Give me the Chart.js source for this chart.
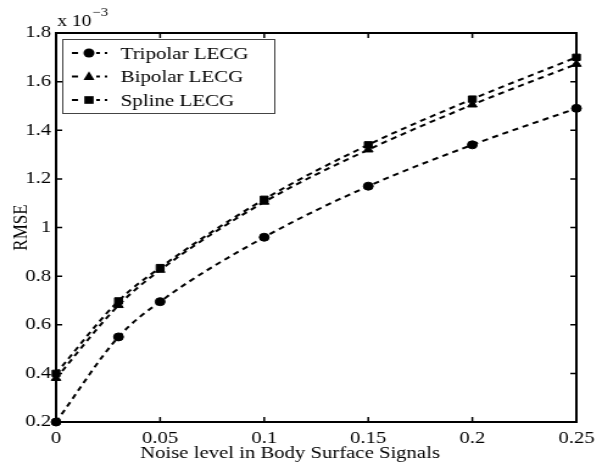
<!DOCTYPE html>
<html>
<head>
<meta charset="utf-8">
<script src="https://cdn.jsdelivr.net/npm/chart.js@4/dist/chart.umd.min.js"></script>
<style>
  html, body { margin: 0; padding: 0; background: #fff; }
  canvas { display: block; }
</style>
</head>
<body>
<canvas id="c" width="494" height="466" style="width:602px;height:466px;"></canvas>
<script>
// ---- data (values are x 10^-3) ----
const noise    = [0, 0.03, 0.05, 0.1, 0.15, 0.2, 0.25];
const tripolar = [0.20, 0.55, 0.695, 0.96, 1.17, 1.34, 1.49];
const bipolar  = [0.38, 0.68, 0.825, 1.105, 1.32, 1.505, 1.672];
const spline   = [0.40, 0.698, 0.835, 1.116, 1.34, 1.528, 1.70];
const seriesLabels = ['Tripolar LECG', 'Bipolar LECG', 'Spline LECG'];
const xTicks = [0, 0.05, 0.1, 0.15, 0.2, 0.25];
const yTicks = [0.2, 0.4, 0.6, 0.8, 1, 1.2, 1.4, 1.6, 1.8];
const xTitle = 'Noise level in Body Surface Signals';
const yTitle = 'RMSE';

const FONT = '"Liberation Serif", "Times New Roman", serif';
const toXY = arr => noise.map((x, i) => ({ x: x, y: arr[i] }));
const fmt = v => String(Number(v.toFixed(3)));

function ds(label, arr, style) {
  return {
    label: label, data: toXY(arr),
    borderColor: '#000', backgroundColor: '#000',
    borderWidth: 2, borderDash: [5, 4],
    pointStyle: style, pointRadius: style === 'circle' ? 4 : 4.5,
    pointBorderWidth: 1, pointBackgroundColor: '#000', pointBorderColor: '#000',
    cubicInterpolationMode: 'monotone', fill: false, clip: false
  };
}

function drawMarker(ctx, style, x, y, r) {
  ctx.beginPath();
  if (style === 'circle') {
    ctx.arc(x, y, r, 0, Math.PI * 2);
  } else if (style === 'triangle') {
    ctx.moveTo(x, y - r * 1.15);
    ctx.lineTo(x + r, y + r * 0.75);
    ctx.lineTo(x - r, y + r * 0.75);
    ctx.closePath();
  } else {
    ctx.rect(x - r * 0.85, y - r * 0.85, r * 1.7, r * 1.7);
  }
  ctx.fill();
}

const framePlugin = {
  id: 'frame',
  beforeDatasetsDraw(chart) {
    const { ctx, chartArea: a, scales } = chart;
    ctx.save();
    ctx.strokeStyle = '#000';
    ctx.lineWidth = 2;
    ctx.strokeRect(a.left, a.top, a.right - a.left, a.bottom - a.top);
    ctx.lineWidth = 1.5;
    const tl = 5;
    ctx.beginPath();
    scales.x.ticks.forEach(t => {
      const px = scales.x.getPixelForValue(t.value);
      ctx.moveTo(px, a.bottom); ctx.lineTo(px, a.bottom - tl);
      ctx.moveTo(px, a.top); ctx.lineTo(px, a.top + tl);
    });
    scales.y.ticks.forEach(t => {
      const py = scales.y.getPixelForValue(t.value);
      ctx.moveTo(a.left, py); ctx.lineTo(a.left + tl, py);
      ctx.moveTo(a.right, py); ctx.lineTo(a.right - tl, py);
    });
    ctx.stroke();
    ctx.fillStyle = '#000';
    // exponent label
    ctx.textBaseline = 'alphabetic';
    ctx.textAlign = 'left';
    ctx.font = '16px ' + FONT;
    ctx.fillText('x 10', a.left + 1, a.top - 7);
    const w = ctx.measureText('x 10').width;
    ctx.font = '12px ' + FONT;
    ctx.fillText('\u22123', a.left + 2 + w, a.top - 17);
    // x axis title (offset left as in the original)
    ctx.font = '17px ' + FONT;
    ctx.textAlign = 'center';
    ctx.fillText(xTitle, a.left + 192, a.bottom + 36);
    ctx.restore();
  },
  afterDatasetsDraw(chart) {
    const { ctx, chartArea: a } = chart;
    const bx = a.left + 5, by = a.top + 6, bw = 174, bh = 74;
    ctx.save();
    ctx.fillStyle = '#fff';
    ctx.fillRect(bx, by, bw, bh);
    ctx.strokeStyle = '#444';
    ctx.lineWidth = 1;
    ctx.strokeRect(bx + 0.5, by + 0.5, bw, bh);
    ctx.font = '20px ' + FONT;
    const fs = 20 * 105 / ctx.measureText(chart.data.datasets[0].label).width;
    ctx.font = fs.toFixed(2) + 'px ' + FONT;
    ctx.textBaseline = 'middle';
    ctx.textAlign = 'left';
    chart.data.datasets.forEach((d, i) => {
      const cy = by + 14 + i * 23.5;
      ctx.strokeStyle = '#000';
      ctx.lineWidth = 2;
      ctx.setLineDash([5, 4]);
      ctx.beginPath();
      ctx.moveTo(bx + 8, cy); ctx.lineTo(bx + 37, cy);
      ctx.stroke();
      ctx.setLineDash([]);
      ctx.fillStyle = '#fff';
      ctx.fillRect(bx + 16, cy - 6, 12, 12);
      ctx.fillStyle = '#000';
      drawMarker(ctx, d.pointStyle, bx + 22, cy, 4.5);
      ctx.fillText(d.label, bx + 48, cy + 1);
    });
    ctx.restore();
  }
};

new Chart(document.getElementById('c'), {
  type: 'line',
  data: {
    datasets: [
      ds(seriesLabels[0], tripolar, 'circle'),
      ds(seriesLabels[1], bipolar, 'triangle'),
      ds(seriesLabels[2], spline, 'rect')
    ]
  },
  options: {
    responsive: false,
    devicePixelRatio: 1,
    animation: false,
    events: [],
    layout: { padding: { top: 33, right: 21, left: 0, bottom: 0 } },
    plugins: { legend: { display: false }, tooltip: { enabled: false } },
    scales: {
      x: {
        type: 'linear', min: 0, max: 0.25,
        afterBuildTicks: s => { s.ticks = xTicks.map(v => ({ value: v })); },
        afterFit: s => { s.height = 44; },
        grid: { display: false, drawTicks: false },
        border: { display: false },
        ticks: { font: { family: FONT, size: 17 }, color: '#000', padding: 6, maxRotation: 0, callback: v => fmt(v) },
        title: { display: false }
      },
      y: {
        type: 'linear', min: 0.2, max: 1.8,
        afterBuildTicks: s => { s.ticks = yTicks.map(v => ({ value: v })); },
        afterFit: s => { s.width = 46; },
        grid: { display: false, drawTicks: false },
        border: { display: false },
        ticks: { font: { family: FONT, size: 17 }, color: '#000', padding: 4, callback: v => fmt(v) },
        title: { display: true, text: yTitle, font: { family: FONT, size: 17 }, color: '#000', padding: { top: 7, bottom: 0 } }
      }
    }
  },
  plugins: [framePlugin]
});
</script>
</body>
</html>
